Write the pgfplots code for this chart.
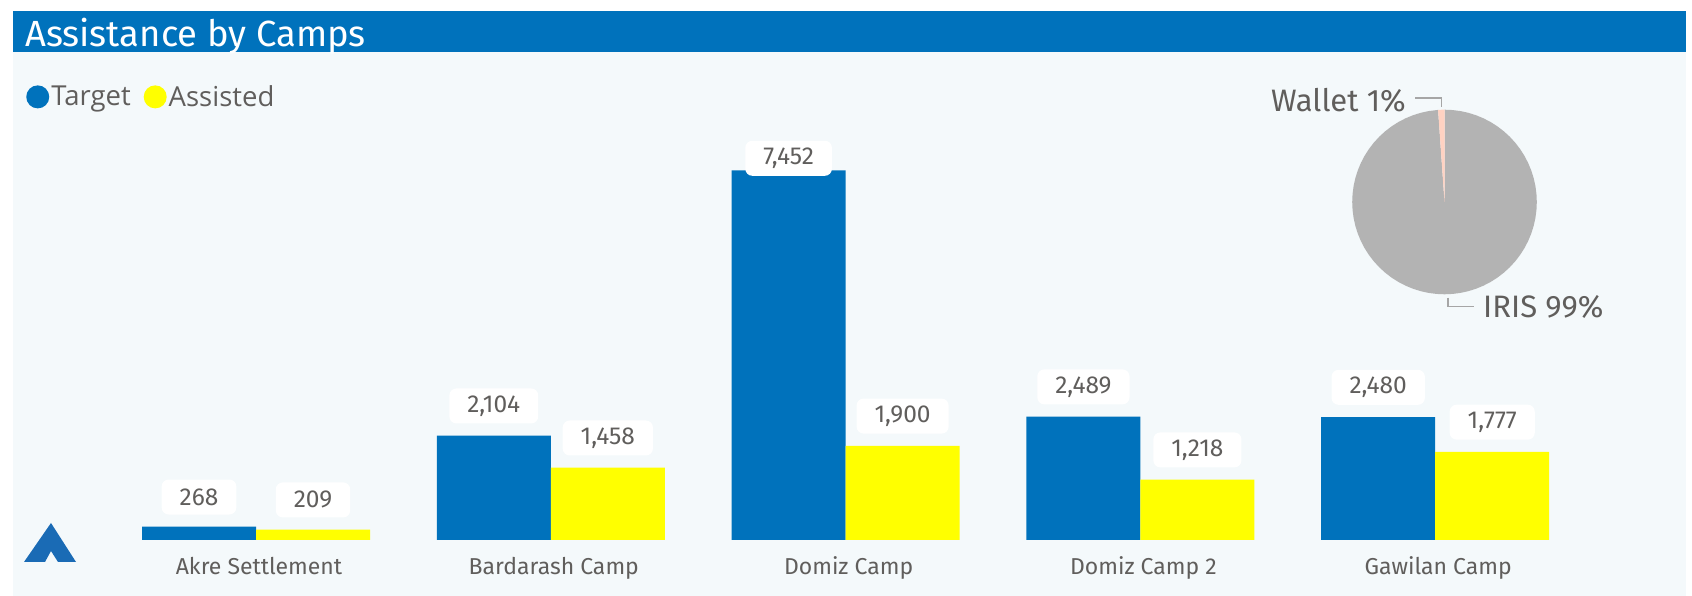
\documentclass[border=0pt]{standalone}
\usepackage{pgfplots}
\pgfplotsset{compat=1.18}
\usepgfplotslibrary{polar}
\usepackage{fontspec}
\setmainfont{Fira Sans}
\newfontfamily\legfont{Open Sans}
\definecolor{band}{HTML}{0072BC}
\definecolor{panel}{HTML}{F4F9FB}
\definecolor{txt}{HTML}{605E5C}
\definecolor{pieg}{HTML}{B3B3B3}
\definecolor{piew}{HTML}{FFD2C2}
\definecolor{lead}{HTML}{A6A6A6}
\definecolor{logo}{HTML}{1A6BB5}
\definecolor{yel}{RGB}{255,255,0}
\begin{document}
\begin{tikzpicture}
\path[use as bounding box] (0pt,0pt) rectangle (1692pt,596pt);
\begin{scope}[x=1pt,y=-1pt,yshift=596pt]
\fill[white] (0,0) rectangle (1692,596);
\fill[panel] (13,52) rectangle (1686,596);
\fill[band] (13,11) rectangle (1686,52);
\node[anchor=base west,inner sep=0pt,text=white,font=\fontsize{36.4}{38}\selectfont] at (25,47) {Assistance by Camps};
\end{scope}
\begin{axis}[
  at={(108.6pt,56pt)},anchor=south west,
  scale only axis,width=1474pt,height=396.7pt,
  xmin=-0.5,xmax=4.5,ymin=0,ymax=8000,
  ybar=0pt,bar width=114pt,
  axis y line=none,axis x line*=bottom,
  x axis line style={draw=none},
  major tick length=0pt,
  xtick=data,
  xticklabels={Akre Settlement,Bardarash Camp,Domiz Camp,Domiz Camp 2,Gawilan Camp},
  xticklabel style={font=\fontsize{23}{26}\selectfont,text=txt,xshift=3pt,yshift=-13.5pt},
  clip=false,
  nodes near coords,
  /pgf/number format/assume math mode=true,
  /pgf/number format/1000 sep={,},
  every node near coord/.append style={font=\fontsize{24.5}{28}\selectfont,text=txt,fill=white,rounded corners=7pt,
    inner xsep=18pt,inner ysep=0pt,minimum height=35pt,yshift=12pt},
  coordinate style/.condition={y>7000}{yshift=-17.5pt},
  legend style={at={(-0.056,1.117)},anchor=west,draw=none,fill=none,inner sep=0pt,
    font=\legfont\fontsize{27.5}{29}\selectfont,text=txt,
    legend columns=-1,/tikz/every even column/.append style={column sep=11pt}},
  legend image code/.code={\fill[#1] (0pt,0pt) circle[radius=11.5pt];},
]
\addplot[fill=band,draw=none] coordinates {(0,268) (1,2104) (2,7452) (3,2489) (4,2480)};
\addlegendentry{Target}
\addplot[fill=yel,draw=none] coordinates {(0,209) (1,1458) (2,1900) (3,1218) (4,1777)};
\addlegendentry{Assisted}
\end{axis}
\begin{axis}[
  at={(1444.5pt,394pt)},anchor=center,
  scale only axis,width=184.6pt,height=184.6pt,
  xmin=-1,xmax=1,ymin=-1,ymax=1,hide axis,clip=false,
]
\addplot[fill=pieg,draw=none,data cs=polar] coordinates {(0,0) (94,1) (100,1) (105,1) (110,1) (115,1) (120,1) (125,1) (130,1) (135,1) (140,1) (145,1) (150,1) (155,1) (160,1) (165,1) (170,1) (175,1) (180,1) (185,1) (190,1) (195,1) (200,1) (205,1) (210,1) (215,1) (220,1) (225,1) (230,1) (235,1) (240,1) (245,1) (250,1) (255,1) (260,1) (265,1) (270,1) (275,1) (280,1) (285,1) (290,1) (295,1) (300,1) (305,1) (310,1) (315,1) (320,1) (325,1) (330,1) (335,1) (340,1) (345,1) (350,1) (355,1) (360,1) (365,1) (370,1) (375,1) (380,1) (385,1) (390,1) (395,1) (400,1) (405,1) (410,1) (415,1) (420,1) (425,1) (430,1) (435,1) (440,1) (445,1) (450,1)} -- cycle;
\addplot[fill=piew,draw=none,data cs=polar] coordinates {(0,0) (90,1) (92,1) (94,1)} -- cycle;
\end{axis}
\begin{scope}[x=1pt,y=-1pt,yshift=596pt]
\draw[lead,line width=1.5pt] (1415,98) -| (1441.7,107);
\draw[lead,line width=1.5pt] (1448,297.7) |- (1474,306.3);
\node[anchor=base west,inner sep=0pt,text=txt,font=\fontsize{31}{33}\selectfont] at (1271,111.5) {Wallet 1\%};
\node[anchor=base west,inner sep=0pt,text=txt,font=\fontsize{31}{33}\selectfont] at (1483,318) {IRIS 99\%};
\fill[logo] (51,523) -- (76,562) -- (58,562) -- (51,551) -- (45,562) -- (24,562) -- cycle;
\end{scope}
\end{tikzpicture}
\end{document}
